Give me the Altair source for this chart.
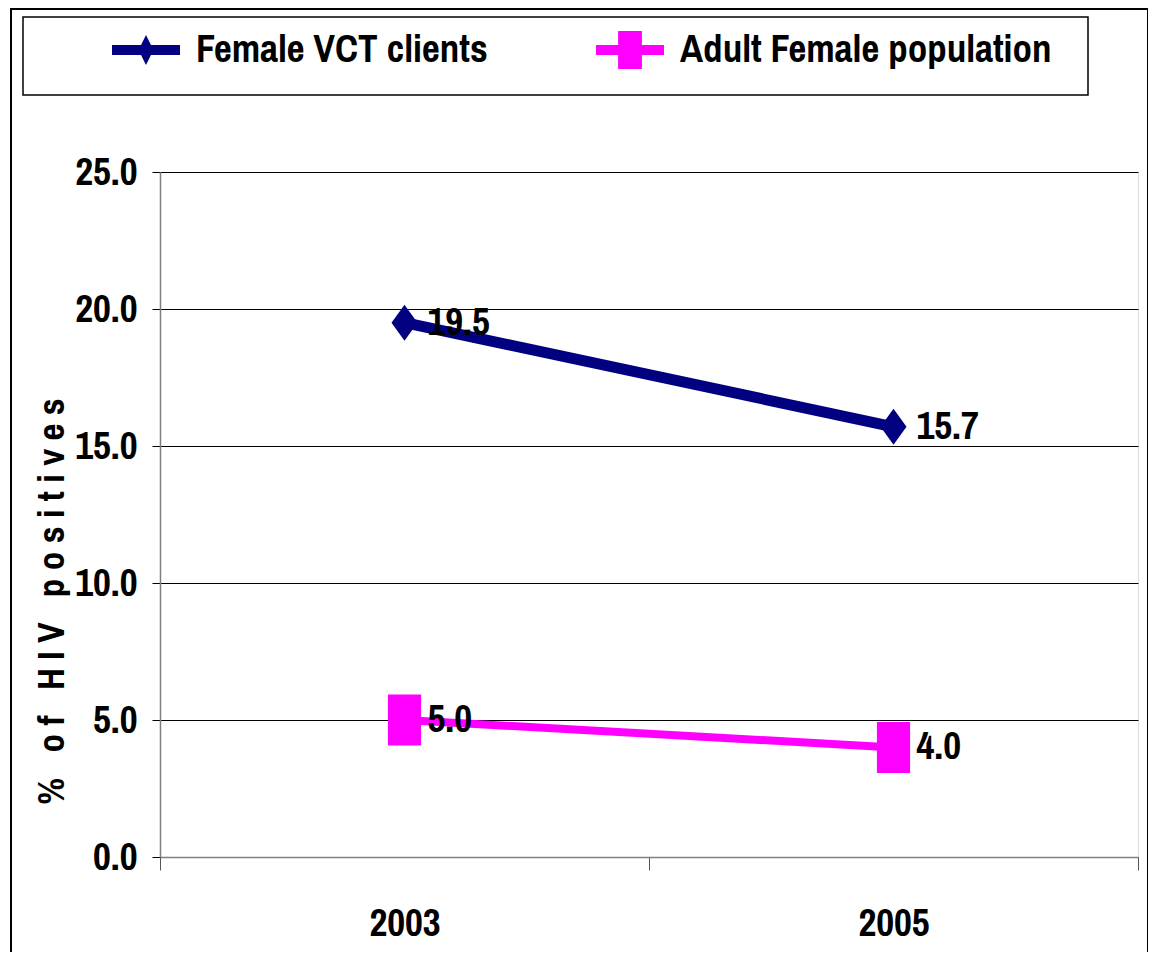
import altair as alt
import pandas as pd

years = ["2003", "2005"]
series_names = ["Female VCT clients", "Adult Female population"]
vct_values = [19.5, 15.7]
adult_values = [5.0, 4.0]
y_ticks = [0, 5, 10, 15, 20, 25]
y_title_words = ["%", "of", "HIV", "positives"]

colors = ["#000080", "#FF00FF"]
line_widths = [11, 8]

rows = []
for name, vals in zip(series_names, [vct_values, adult_values]):
    for yr, v in zip(years, vals):
        rows.append({"year": yr, "series": name, "value": v})
df = pd.DataFrame(rows)

FONT = "Archivo Narrow, Liberation Sans Narrow, Arial Narrow, DejaVu Sans Condensed, sans-serif"
FS = 39

y_title = " \u00a0 ".join(" ".join(list(w)) for w in y_title_words)

diamond = "M0,-0.706 L0.51,0 L0,0.706 L-0.51,0 Z"
square = "M-0.65,-1 L0.65,-1 L0.65,1 L-0.65,1 Z"
leg_diamond = "M-1,-0.147 L1,-0.147 L1,0.147 L-1,0.147 Z M0,-0.44 L0.22,0 L0,0.44 L-0.22,0 Z"
leg_square = "M-1,-0.147 L1,-0.147 L1,0.147 L-1,0.147 Z M-0.35,-0.56 L0.35,-0.56 L0.35,0.56 L-0.35,0.56 Z"
point_shapes = [diamond, square]

W, H = 978, 685

x_enc = alt.X(
    "year:O",
    scale=alt.Scale(type="band", paddingInner=0, paddingOuter=0, domain=years),
    axis=alt.Axis(
        title=None, labelAngle=0, labelFont=FONT, labelFontSize=FS, labelFontWeight="bold",
        labelColor="black", tickBand="extent", tickSize=13, tickColor="#555555",
        domainColor="#808080", domainWidth=1.5, labelPadding=34, grid=False,
    ),
)
y_enc = alt.Y(
    "value:Q",
    scale=alt.Scale(domain=[0, 25], nice=False, zero=True),
    axis=alt.Axis(
        values=y_ticks, format=".1f", title=y_title,
        titleFont=FONT, titleFontSize=37, titleFontWeight="bold",
        titleColor="black", titleX=-108, titleY=429, titleAngle=-90, titleAlign="center",
        titleBaseline="middle", titleLimit=800,
        labelFont=FONT, labelFontSize=FS, labelFontWeight="bold", labelColor="black",
        labelPadding=15, tickSize=8, tickColor="black", domainColor="#808080", domainWidth=1.5,
        grid=True, gridColor="black", gridWidth=1,
    ),
)

base = alt.Chart(df)

layers = []
for name, col, lw in zip(series_names, colors, line_widths):
    sub = base.transform_filter(alt.datum.series == name)
    layers.append(sub.mark_line(strokeCap="butt", color=col, strokeWidth=lw).encode(x=x_enc, y=y_enc))
for name, col, shp in zip(series_names, colors, point_shapes):
    sub = base.transform_filter(alt.datum.series == name)
    layers.append(sub.mark_point(filled=True, opacity=1, size=2601, color=col, shape=shp).encode(x=x_enc, y=y_enc))

leg_props = dict(
    title=None, orient="none", legendX=-48, legendY=-156, direction="horizontal",
    labelFont=FONT, labelFontSize=FS, labelFontWeight="bold", labelColor="black",
    symbolSize=4624, labelOffset=16, columnPadding=108, padding=0, labelLimit=600,
    symbolOpacity=1, symbolStrokeWidth=0,
)
legend_layer = base.mark_point(filled=True, opacity=0, size=4624).encode(
    x=x_enc, y=y_enc,
    color=alt.Color("series:N", scale=alt.Scale(domain=series_names, range=colors), sort=series_names,
                    legend=alt.Legend(**leg_props)),
    shape=alt.Shape("series:N", scale=alt.Scale(domain=series_names, range=[leg_diamond, leg_square]),
                    sort=series_names, legend=alt.Legend(**leg_props)),
)

labels = base.mark_text(
    align="left", baseline="middle", dx=23, font=FONT, fontSize=FS, fontWeight="bold", color="black"
).encode(x=x_enc, y=y_enc, text=alt.Text("value:Q", format=".1f"))

legend_box = alt.Chart(pd.DataFrame({"a": [0]})).mark_rect(
    fill="transparent", stroke="black", strokeWidth=1.5, clip=False
).encode(x=alt.value(-137), x2=alt.value(928), y=alt.value(-155), y2=alt.value(-77))

outer_box = alt.Chart(pd.DataFrame({"a": [0]})).mark_rect(
    fill="transparent", stroke="black", strokeWidth=2, clip=False
).encode(x=alt.value(-149), x2=alt.value(988), y=alt.value(-163), y2=alt.value(820))

chart = alt.layer(outer_box, legend_box, *layers, legend_layer, labels).properties(
    width=W, height=H,
    autosize=alt.AutoSizeParams(type="none"),
    padding={"left": 152, "top": 164, "right": 10, "bottom": 95},
).configure_view(stroke=None).configure(background="white")

chart.save("out.html", embed_options={"renderer": "svg", "actions": False})
